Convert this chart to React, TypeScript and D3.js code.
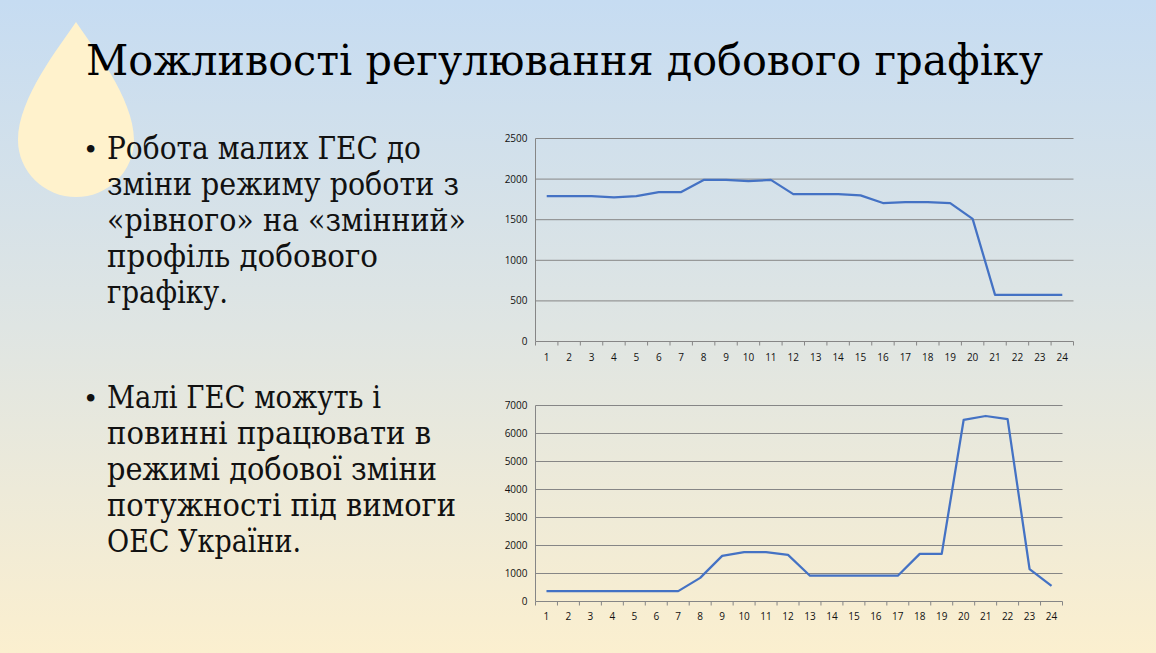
import React from 'react';
import * as d3 from 'd3';

const hours = ['1', '2', '3', '4', '5', '6', '7', '8', '9', '10', '11', '12',
  '13', '14', '15', '16', '17', '18', '19', '20', '21', '22', '23', '24'];

// output before the switch ("flat" profile)
const flatProfile = [1790, 1790, 1790, 1775, 1790, 1840, 1840, 1990, 1990, 1975, 1990, 1815,
  1815, 1815, 1800, 1705, 1715, 1715, 1705, 1510, 575, 575, 575, 575];
const flatTicks = [0, 500, 1000, 1500, 2000, 2500];

// output after the switch ("variable" profile)
const variableProfile = [370, 370, 370, 370, 370, 370, 370, 845, 1630, 1760, 1760, 1665,
  920, 920, 920, 920, 920, 1700, 1700, 6490, 6625, 6515, 1160, 560];
const variableTicks = [0, 1000, 2000, 3000, 4000, 5000, 6000, 7000];

const titleText = 'Можливості регулювання добового графіку';
const bulletOne = [
  'Робота малих ГЕС до',
  'зміни режиму роботи з',
  '«рівного» на «змінний»',
  'профіль добового',
  'графіку.',
];
const bulletOneWidths = [314, 352, 359, 271, 121];
const bulletTwo = [
  'Малі ГЕС можуть і',
  'повинні працювати в',
  'режимі добової зміни',
  'потужності під вимоги',
  'ОЕС України.',
];
const bulletTwoWidths = [274, 324, 330, 349, 194];

const serif = '"DejaVu Serif", "Liberation Serif", serif';

interface LineChartProps {
  values: number[];
  ticks: number[];
  left: number;
  right: number;
  top: number;
  bottom: number;
  labelDy: number;
}

const LineChart: React.FC<LineChartProps> = ({ values, ticks, left, right, top, bottom, labelDy }) => {
  const x = d3.scaleBand<string>().domain(hours).range([left, right]).padding(0);
  const y = d3.scaleLinear().domain([0, ticks[ticks.length - 1]]).range([bottom, top]);
  const cx = (h: string) => (x(h) || 0) + x.bandwidth() / 2;

  const line = d3.line<number>()
    .x((_d, i) => cx(hours[i]))
    .y(d => y(d));

  const tickFont = { fontFamily: '"Open Sans", "Noto Sans", sans-serif', fontSize: 10 };

  return (
    <g>
      {ticks.map(t => (
        <g key={t}>
          <line x1={left} x2={right} y1={y(t)} y2={y(t)} stroke="#868686" strokeWidth={1} />
          <text x={left - 8} y={y(t)} dy="0.35em" textAnchor="end" fill="#111" style={tickFont}>{t}</text>
        </g>
      ))}
      <line x1={left} x2={left} y1={top} y2={bottom} stroke="#868686" strokeWidth={1} />
      {hours.map(h => (
        <line key={'t' + h} x1={x(h)} x2={x(h)} y1={bottom} y2={bottom + 4} stroke="#868686" strokeWidth={1} />
      ))}
      <line x1={right} x2={right} y1={bottom} y2={bottom + 4} stroke="#868686" strokeWidth={1} />
      {hours.map(h => (
        <text key={'l' + h} x={cx(h)} y={bottom + labelDy} dy="0.35em" textAnchor="middle" fill="#111" style={tickFont}>{h}</text>
      ))}
      <path d={line(values) || ''} fill="none" stroke="#4472c4" strokeWidth={2.25} strokeLinejoin="round" />
    </g>
  );
};

const Bullet: React.FC<{ lines: string[]; widths: number[]; y0: number }> = ({ lines, widths, y0 }) => (
  <g style={{ fontFamily: serif }} fill="#111">
    <text x={83} y={y0} fontSize={26}>•</text>
    {lines.map((l, i) => (
      <text key={i} x={107} y={y0 + i * 36} fontSize={31} textLength={widths[i]} lengthAdjust="spacingAndGlyphs">{l}</text>
    ))}
  </g>
);

export default function App() {
  return (
    <svg width={1156} height={653} style={{ position: 'absolute', left: 0, top: 0 }}>
      <defs>
        <linearGradient id="bg" x1="0" y1="0" x2="0" y2="1">
          <stop offset="0%" stopColor="#c6dcf2" />
          <stop offset="50%" stopColor="#dfe5e3" />
          <stop offset="100%" stopColor="#fbefcf" />
        </linearGradient>
      </defs>
      <rect width={1156} height={653} fill="url(#bg)" />
      <path d="M76,22 C92,46 134,98 134,140 A58,57 0 0 1 18,140 C18,98 60,46 76,22 Z" fill="#fff2cc" />

      <text x={86} y={75} fontSize={42} fill="#000" textLength={957} lengthAdjust="spacingAndGlyphs"
        style={{ fontFamily: serif }}>{titleText}</text>

      <Bullet lines={bulletOne} widths={bulletOneWidths} y0={159} />
      <Bullet lines={bulletTwo} widths={bulletTwoWidths} y0={408} />

      <LineChart values={flatProfile} ticks={flatTicks} left={535.5} right={1073.5} top={138.5} bottom={341.5} labelDy={16} />
      <LineChart values={variableProfile} ticks={variableTicks} left={535.5} right={1062.5} top={405.5} bottom={601.5} labelDy={15} />
    </svg>
  );
}
